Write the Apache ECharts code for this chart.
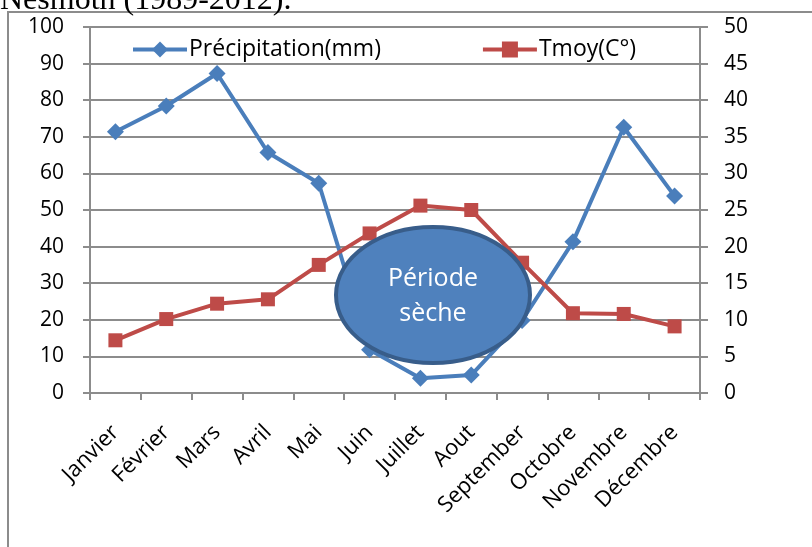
<!DOCTYPE html>
<html>
<head>
<meta charset="utf-8">
<script src="https://cdn.jsdelivr.net/npm/echarts@6/dist/echarts.min.js"></script>
<style>
  html, body { margin: 0; padding: 0; background: #fff; }
  #chart { width: 812px; height: 547px; }
</style>
</head>
<body>
<div id="chart"></div>
<script>
const months = ['Janvier', 'Février', 'Mars', 'Avril', 'Mai', 'Juin', 'Juillet', 'Aout', 'September', 'Octobre', 'Novembre', 'Décembre'];
const precipitation = [71.4, 78.4, 87.3, 65.7, 57.3, 11.8, 4.0, 4.9, 19.8, 41.3, 72.6, 53.8];
const tmoy = [7.2, 10.1, 12.2, 12.8, 17.5, 21.8, 25.6, 25.0, 17.8, 10.9, 10.8, 9.1];

const font = '"Open Sans", "Noto Sans", sans-serif';
const gridColor = '#8c8c8c';

const chart = echarts.init(document.getElementById('chart'));

chart.setOption({
  animation: false,
  textStyle: { fontFamily: font },
  grid: { left: 90, right: 112, top: 27, bottom: 154 },
  legend: {
    top: 33,
    left: 126,
    itemGap: 100,
    itemWidth: 54,
    itemHeight: 20,
    lineStyle: { width: 4 },
    textStyle: { fontSize: 23, color: '#000', fontFamily: font, padding: [0, 0, 0, -3] },
    data: ['Précipitation(mm)', 'Tmoy(C°)'],
  },
  xAxis: {
    type: 'category',
    data: months,
    boundaryGap: true,
    axisLine: { lineStyle: { color: gridColor, width: 2 } },
    axisTick: { show: true, length: 7, lineStyle: { color: gridColor, width: 2 } },
    axisLabel: { rotate: 45, fontSize: 22, color: '#000', margin: 36, interval: 0 },
  },
  yAxis: [
    {
      type: 'value', min: 0, max: 100, interval: 10,
      axisLine: { show: true, lineStyle: { color: gridColor, width: 2 } },
      axisTick: { show: true, length: 7, lineStyle: { color: gridColor, width: 2 } },
      axisLabel: { fontSize: 21, color: '#000', margin: 26 },
      splitLine: { lineStyle: { color: gridColor, width: 2 } },
    },
    {
      type: 'value', min: 0, max: 50, interval: 5,
      axisLine: { show: true, lineStyle: { color: gridColor, width: 2 } },
      axisTick: { show: true, length: 8, lineStyle: { color: gridColor, width: 2 } },
      axisLabel: { fontSize: 21, color: '#000', margin: 24 },
      splitLine: { show: false },
    },
  ],
  series: [
    {
      name: 'Précipitation(mm)',
      type: 'line',
      yAxisIndex: 0,
      data: precipitation,
      symbol: 'diamond',
      symbolSize: 17,
      color: '#4a7ebb',
      lineStyle: { width: 4, color: '#4a7ebb' },
      itemStyle: { color: '#4a7ebb' },
      z: 2,
    },
    {
      name: 'Tmoy(C°)',
      type: 'line',
      yAxisIndex: 1,
      data: tmoy,
      symbol: 'rect',
      symbolSize: 14,
      color: '#be4b48',
      lineStyle: { width: 4, color: '#be4b48' },
      itemStyle: { color: '#be4b48' },
      z: 3,
    },
  ],
  graphic: [
    {
      type: 'rect',
      shape: { x: 8, y: 12, width: 900, height: 600 },
      style: { fill: 'none', stroke: '#8c8c8c', lineWidth: 2 },
      silent: true,
      z: 0,
    },
    {
      type: 'text',
      x: 0,
      y: 17,
      style: {
        text: 'Nesmoth (1989-2012).',
        font: '32px "Liberation Serif", serif',
        fill: '#000',
        verticalAlign: 'bottom',
      },
      z: 10,
    },
    {
      type: 'ellipse',
      shape: { cx: 433, cy: 295, rx: 97, ry: 68 },
      style: { fill: '#4f81bd', stroke: '#385d8a', lineWidth: 4 },
      z: 100,
    },
    {
      type: 'text',
      x: 433,
      y: 296,
      style: {
        text: 'Période\nsèche',
        font: '25px "Open Sans", sans-serif',
        fill: '#fff',
        align: 'center',
        verticalAlign: 'middle',
        lineHeight: 35,
      },
      z: 101,
    },
  ],
});
</script>
</body>
</html>
